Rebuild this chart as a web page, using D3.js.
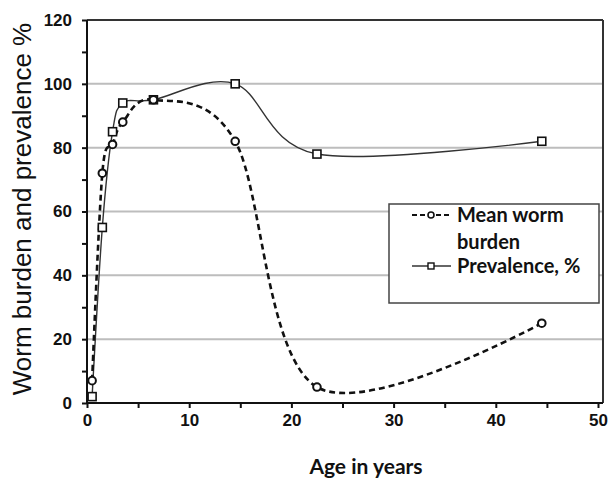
<!DOCTYPE html>
<html>
<head>
<meta charset="utf-8">
<script src="https://cdn.jsdelivr.net/npm/d3@7"></script>
<style>
  body { margin: 0; background: #fff; }
  svg { display: block; }
</style>
</head>
<body>
<svg id="chart" width="610" height="478"></svg>
<script>
// Data
const ages = [0.5, 1.5, 2.5, 3.5, 6.5, 14.5, 22.5, 44.5];
const wormBurden = [7, 72, 81, 88, 95, 82, 5, 25];
const prevalence = [2, 55, 85, 94, 95, 100, 78, 82];
const xTicks = [0, 10, 20, 30, 40, 50];
const yTicks = [0, 20, 40, 60, 80, 100, 120];
const gridValues = [20, 40, 60, 80, 100];
const seriesNames = ["Mean worm", "burden", "Prevalence, %"];
const xTitle = "Age in years";
const yTitle = "Worm burden and prevalence %";

const svg = d3.select("#chart");
const x = d3.scaleLinear().domain([0, 50]).range([87, 598]);
const y = d3.scaleLinear().domain([0, 120]).range([403, 20]);
const right = 603;

// gridlines
svg.append("g").selectAll("line").data(gridValues).join("line")
  .attr("x1", x(0)).attr("x2", right)
  .attr("y1", d => y(d)).attr("y2", d => y(d))
  .attr("stroke", "#bdbdbd").attr("stroke-width", 2);

// frame top/right
svg.append("line").attr("x1", x(0)).attr("x2", right).attr("y1", y(120)).attr("y2", y(120))
  .attr("stroke", "#333").attr("stroke-width", 2);
svg.append("line").attr("x1", right).attr("x2", right).attr("y1", y(120)).attr("y2", y(0))
  .attr("stroke", "#333").attr("stroke-width", 2);

// axes
const xAxis = svg.append("g").attr("transform", `translate(0,${y(0)})`);
xAxis.call(d3.axisBottom(x).tickValues(d3.range(0, 51, 5)).tickSize(5).tickFormat(d => xTicks.includes(d) ? d : ""));
xAxis.select(".domain").attr("d", `M${x(0)},0H${right}`).attr("stroke", "#111").attr("stroke-width", 2);
xAxis.selectAll(".tick line").attr("stroke", "#111").attr("stroke-width", 2);
xAxis.selectAll(".tick text").attr("font-family", "Liberation Sans, Arial, sans-serif")
  .attr("font-weight", "bold").attr("font-size", 17).attr("fill", "#111").attr("dy", "0.9em");

const yAxis = svg.append("g").attr("transform", `translate(${x(0)},0)`);
yAxis.call(d3.axisLeft(y).tickValues(d3.range(0, 121, 10)).tickSize(5).tickFormat(d => yTicks.includes(d) ? d : ""));
yAxis.select(".domain").attr("d", `M0,${y(120)}V${y(0)}`).attr("stroke", "#111").attr("stroke-width", 2);
yAxis.selectAll(".tick line").attr("stroke", "#111").attr("stroke-width", 2);
yAxis.selectAll(".tick text").attr("font-family", "Liberation Sans, Arial, sans-serif")
  .attr("font-weight", "bold").attr("font-size", 17).attr("fill", "#111").attr("x", -15);

// lines
const curve = d3.curveCardinal.tension(0);
const line = d3.line().x(d => x(d[0])).y(d => y(d[1])).curve(curve);
const burdenPts = ages.map((a, i) => [a, wormBurden[i]]);
const prevPts = ages.map((a, i) => [a, prevalence[i]]);

svg.append("path").attr("d", line(prevPts)).attr("fill", "none")
  .attr("stroke", "#333").attr("stroke-width", 1.4);
svg.append("path").attr("d", line(burdenPts)).attr("fill", "none")
  .attr("stroke", "#111").attr("stroke-width", 2.6).attr("stroke-dasharray", "6,4");

// markers
svg.append("g").selectAll("rect").data(prevPts).join("rect")
  .attr("x", d => x(d[0]) - 4).attr("y", d => y(d[1]) - 4)
  .attr("width", 8).attr("height", 8)
  .attr("fill", "#fff").attr("stroke", "#111").attr("stroke-width", 1.6);
svg.append("g").selectAll("circle").data(burdenPts).join("circle")
  .attr("cx", d => x(d[0])).attr("cy", d => y(d[1])).attr("r", 3.8)
  .attr("fill", "#fff").attr("stroke", "#111").attr("stroke-width", 2);

// legend
const lg = svg.append("g");
lg.append("rect").attr("x", 389).attr("y", 204).attr("width", 210).attr("height", 99)
  .attr("fill", "#fff").attr("stroke", "#444").attr("stroke-width", 1.5);
lg.append("line").attr("x1", 412).attr("x2", 451).attr("y1", 215).attr("y2", 215)
  .attr("stroke", "#111").attr("stroke-width", 2.2).attr("stroke-dasharray", "5,3");
lg.append("circle").attr("cx", 431).attr("cy", 215).attr("r", 3)
  .attr("fill", "#fff").attr("stroke", "#111").attr("stroke-width", 1.6);
lg.append("line").attr("x1", 412).attr("x2", 451).attr("y1", 266).attr("y2", 266)
  .attr("stroke", "#333").attr("stroke-width", 1.4);
lg.append("rect").attr("x", 428).attr("y", 263).attr("width", 6).attr("height", 6)
  .attr("fill", "#fff").attr("stroke", "#111").attr("stroke-width", 1.4);
const ly = [215, 242, 266];
lg.selectAll("text").data(seriesNames).join("text")
  .attr("x", 457).attr("y", (d, i) => ly[i]).attr("dy", "0.35em")
  .attr("font-family", "Lato, 'Open Sans', sans-serif").attr("font-weight", "bold")
  .attr("font-size", 20).attr("fill", "#111").text(d => d);

// axis titles
svg.append("text").attr("x", 366).attr("y", 467).attr("dy", "0.35em")
  .attr("text-anchor", "middle").attr("font-family", "Lato, 'Open Sans', sans-serif")
  .attr("font-weight", "bold").attr("font-size", 21).attr("fill", "#111").text(xTitle);
svg.append("text").attr("transform", "translate(22,209) rotate(-90)").attr("dy", "0.35em")
  .attr("text-anchor", "middle").attr("font-family", "Liberation Sans, Arial, sans-serif")
  .attr("font-size", 26).attr("fill", "#111").text(yTitle);
</script>
</body>
</html>
